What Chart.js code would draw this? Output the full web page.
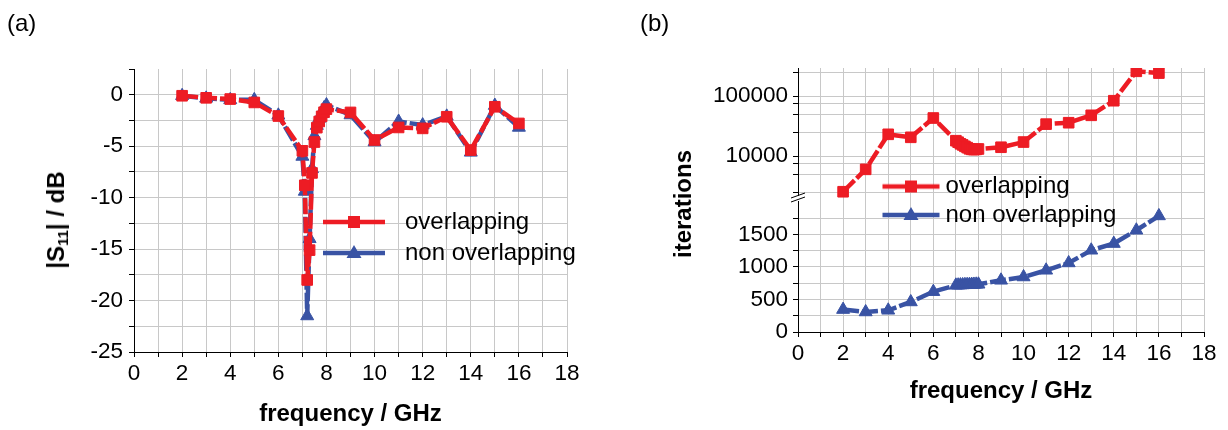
<!DOCTYPE html>
<html><head><meta charset="utf-8">
<script src="https://cdn.jsdelivr.net/npm/chart.js@4.4.1/dist/chart.umd.min.js"></script>
<style>
html,body{margin:0;padding:0;background:#fff;}
#wrap{position:relative;width:1228px;height:430px;overflow:hidden;font-family:"Liberation Sans",Arial,sans-serif;color:#000;}
canvas{position:absolute;top:0;}
.lbl{position:absolute;font-size:24px;line-height:28px;}
.ytitle{position:absolute;font-weight:bold;font-size:24px;line-height:28px;white-space:nowrap;transform:translate(-50%,-50%) rotate(-90deg);}
.ytitle sub{font-size:15px;vertical-align:-4px;line-height:0;}
</style></head><body>
<div id="wrap">
<canvas id="ca" width="614" height="430" style="left:0"></canvas>
<canvas id="cb" width="614" height="430" style="left:614px"></canvas>
<div class="lbl" style="left:7px;top:9px">(a)</div>
<div class="lbl" style="left:640px;top:9px">(b)</div>
<div class="ytitle" style="left:56px;top:220px">|S<sub>11</sub>| / dB</div>
<div class="ytitle" style="left:683px;top:204px">iterations</div>
</div>
<script>
// ---- data ----
const seriesNames = ['overlapping', 'non overlapping'];
const frequency = [2, 3, 4, 5, 6, 7, 7.1, 7.2, 7.3, 7.4, 7.5, 7.6, 7.7, 7.8, 7.9, 8, 9, 10, 11, 12, 13, 14, 15, 16];
const s11Overlapping = [-0.1, -0.3, -0.42, -0.75, -2.07, -5.45, -8.8, -18.0, -15.1, -7.6, -4.6, -3.2, -2.6, -2.1, -1.7, -1.4, -1.72, -4.4, -3.18, -3.27, -2.14, -5.38, -1.17, -2.79];
const s11NonOverlapping = [-0.1, -0.35, -0.5, -0.5, -2.0, -6.0, -9.4, -21.5, -14.0, -7.2, -4.0, -3.0, -2.3, -1.8, -1.3, -1.0, -1.97, -4.6, -2.6, -2.95, -2.1, -5.6, -1.05, -3.18];
const iterOverlapping = [2540, 6000, 23000, 20500, 43000, 18000, 17000, 16000, 15300, 14500, 13800, 13200, 12900, 12800, 12900, 13100, 14000, 17100, 34000, 35900, 47700, 83500, 258000, 241000];
const iterNonOverlapping = [345, 308, 334, 462, 620, 718, 720, 722, 724, 726, 727, 728, 730, 731, 733, 734, 795, 846, 949, 1062, 1257, 1360, 1565, 1785];

const freqTicks = [0,1,2,3,4,5,6,7,8,9,10,11,12,13,14,15,16,17,18];
const freqTickLabels = ['0','2','4','6','8','10','12','14','16','18'];
const s11Ticks = [-25,-22.5,-20,-17.5,-15,-12.5,-10,-7.5,-5,-2.5,0,2.5];
const s11TickLabels = ['-25','-20','-15','-10','-5','0'];
const iterLogTicks = [2500,5000,7500,10000,25000,50000,75000,100000,250000];
const iterLogTickLabels = ['10000','100000'];
const iterLinTicks = [0,250,500,750,1000,1250,1500,1750];
const iterLinTickLabels = ['0','500','1000','1500'];

// ---- styles ----
const RED = '#ed1c24', BLUE = '#3953a4', GRID = '#c8c8c8';
const FAM = "'Liberation Sans', Arial, Helvetica, sans-serif";
const TICK_FONT = {family: FAM, size: 22.5};
const TITLE_FONT = {family: FAM, size: 24, weight: 'bold'};
const LEG_FONT = {family: FAM, size: 24};

function pts(ys) { return frequency.map((f, i) => ({x: f, y: ys[i]})); }
function labelCb(list) { return v => list.includes(String(v)) ? String(v) : ''; }
function setTicks(list) { return s => { s.ticks = list.map(v => ({value: v})); }; }

function xAxis(h, titlePad) {
  return {
    type: 'linear', position: 'bottom', min: 0, max: 18,
    afterBuildTicks: setTicks(freqTicks),
    afterFit: s => { s.height = h; },
    ticks: {autoSkip: false, maxRotation: 0, minRotation: 0, padding: 3, color: '#000', font: TICK_FONT, callback: labelCb(freqTickLabels)},
    grid: {color: GRID, lineWidth: 1, tickColor: '#000', tickLength: 5},
    border: {color: '#000', width: 1},
    title: {display: true, text: 'frequency / GHz', color: '#000', font: TITLE_FONT, padding: {top: 0, bottom: titlePad}}
  };
}
function yStyle(extra) {
  return Object.assign({
    ticks: {autoSkip: false, padding: 6, color: '#000', font: TICK_FONT},
    grid: {color: GRID, lineWidth: 1, tickColor: '#000', tickLength: 5},
    border: {color: '#000', width: 1}
  }, extra);
}

function legendIcon(color, marker, sampleLen, bw) {
  const W = 2 * Math.max(sampleLen, bw) + 20, H = 20;
  const c = document.createElement('canvas');
  c.width = W; c.height = H;
  const g = c.getContext('2d');
  const x0 = W / 2 - bw / 2, x1 = x0 + sampleLen, ym = H / 2, xm = (x0 + x1) / 2;
  g.strokeStyle = color; g.fillStyle = color; g.lineWidth = 4.5;
  g.beginPath(); g.moveTo(x0, ym); g.lineTo(x1, ym); g.stroke();
  if (marker === 'rect') {
    g.fillRect(xm - 6, ym - 6, 12, 12);
  } else {
    g.beginPath(); g.moveTo(xm, ym - 8); g.lineTo(xm + 7.5, ym + 5); g.lineTo(xm - 7.5, ym + 5); g.closePath(); g.fill();
  }
  return c;
}
function legendOpts(sampleLen, bw, pad) {
  return {
    display: true, position: 'chartArea', align: 'start',
    labels: {
      usePointStyle: true, pointStyleWidth: bw, padding: pad, font: LEG_FONT, color: '#000',
      generateLabels: chart => chart.data.datasets.map((ds, i) => ({
        text: ds.label, datasetIndex: i, hidden: false, fontColor: '#000',
        pointStyle: legendIcon(ds.borderColor, ds.pointStyle, sampleLen, bw),
        fillStyle: 'rgba(0,0,0,0)', strokeStyle: 'rgba(0,0,0,0)', lineWidth: 0
      }))
    }
  };
}
const legendPos = {
  id: 'legendPos',
  afterLayout(chart, args, opts) {
    const lg = chart.legend; if (!lg) return;
    const w = lg.width, h = lg.height;
    lg.left = opts.x; lg.top = opts.y; lg.right = opts.x + w; lg.bottom = opts.y + h;
  }
};
const axisBreak = {
  id: 'axisBreak',
  afterDraw(chart) {
    const s = chart.scales.yLin;
    const x = s.right, y = s.top - 1;
    const c = chart.ctx;
    c.save();
    c.fillStyle = '#fff'; c.fillRect(x - 2, y - 3, 4, 5);
    c.strokeStyle = '#000'; c.lineWidth = 1;
    c.beginPath();
    c.moveTo(x - 7, y - 1); c.lineTo(x + 7, y - 6);
    c.moveTo(x - 7, y + 3); c.lineTo(x + 7, y - 2);
    c.stroke();
    c.restore();
  }
};
function ds(label, data, color, marker, axis) {
  const d = {label, data, borderColor: color, backgroundColor: color, borderWidth: 4.5, borderDash: [16, 3],
    pointStyle: marker, pointRadius: marker === 'rect' ? 7.5 : 7.5, pointBorderWidth: 1, pointBorderColor: color, pointBackgroundColor: color,
    tension: 0, fill: false};
  if (axis) d.yAxisID = axis;
  return d;
}

new Chart(document.getElementById('ca'), {
  type: 'line',
  data: {datasets: [
    ds(seriesNames[0], pts(s11Overlapping), RED, 'rect'),
    ds(seriesNames[1], pts(s11NonOverlapping), BLUE, 'triangle')
  ]},
  options: {
    responsive: false, animation: false, events: [],
    layout: {padding: {left: 0, top: 69, right: 47, bottom: 0}},
    scales: {
      x: xAxis(78, 1),
      y: yStyle({
        type: 'linear', position: 'left', min: -25, max: 2.5,
        afterBuildTicks: setTicks(s11Ticks),
        afterFit: s => { s.width = 134; },
        ticks: {autoSkip: false, padding: 6, color: '#000', font: TICK_FONT, callback: labelCb(s11TickLabels)},
        grid: {color: c => (c.tick && c.tick.value === 2.5) ? 'rgba(0,0,0,0)' : GRID, lineWidth: 1, tickColor: '#000', tickLength: 5}
      })
    },
    plugins: {
      legend: legendOpts(62, 70, 7),
      legendPos: {x: 316, y: 203},
      tooltip: {enabled: false}
    }
  },
  plugins: [legendPos]
});

new Chart(document.getElementById('cb'), {
  type: 'line',
  data: {datasets: [
    ds(seriesNames[0], pts(iterOverlapping), RED, 'rect', 'yLog'),
    ds(seriesNames[1], pts(iterNonOverlapping), BLUE, 'triangle', 'yLin')
  ]},
  options: {
    responsive: false, animation: false, events: [],
    layout: {padding: {left: 0, top: 68, right: 24, bottom: 0}},
    scales: {
      x: xAxis(98, 24),
      yLog: yStyle({
        type: 'logarithmic', position: 'left', stack: 'it', stackWeight: 1, weight: 2, min: 1850, max: 293000,
        afterBuildTicks: setTicks(iterLogTicks),
        afterFit: s => { s.width = 184; },
        ticks: {autoSkip: false, padding: 5, color: '#000', font: TICK_FONT, callback: labelCb(iterLogTickLabels)}
      }),
      yLin: yStyle({
        type: 'linear', position: 'left', stack: 'it', stackWeight: 1, weight: 1, min: 0, max: 2030,
        afterBuildTicks: setTicks(iterLinTicks),
        afterFit: s => { s.width = 184; },
        ticks: {autoSkip: false, padding: 5, color: '#000', font: TICK_FONT, callback: labelCb(iterLinTickLabels)}
      })
    },
    plugins: {
      legend: legendOpts(57, 51, 4.5),
      legendPos: {x: 264, y: 170},
      tooltip: {enabled: false}
    }
  },
  plugins: [legendPos, axisBreak]
});
</script>
</body></html>
